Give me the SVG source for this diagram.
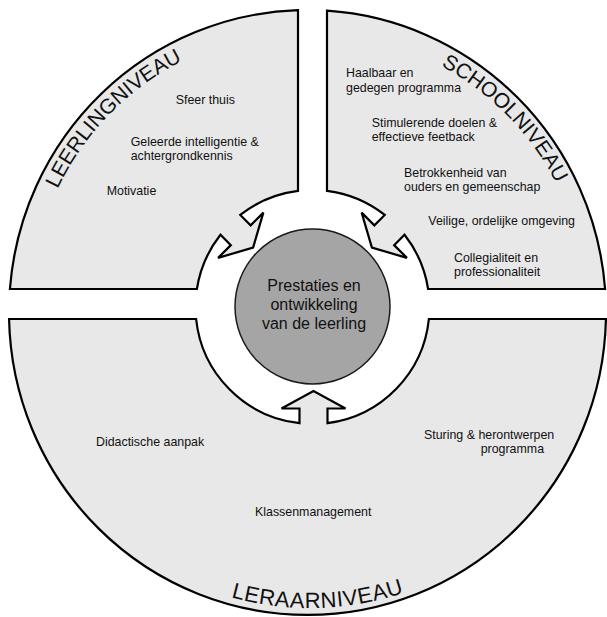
<svg xmlns="http://www.w3.org/2000/svg" width="607" height="617" viewBox="0 0 607 617">
<style>
.sector{fill:#e8e8e8;stroke:#000;stroke-width:2.2;stroke-linejoin:miter}
.core{fill:#a5a5a5;stroke:#1a1a1a;stroke-width:1.5}
.lbl{font-family:"Liberation Sans",Arial,sans-serif;font-size:12.4px;fill:#111}
.ctr{font-family:"Liberation Sans",Arial,sans-serif;font-size:16px;fill:#111;text-anchor:middle}
.title{font-family:"Liberation Sans",Arial,sans-serif;font-size:21px;fill:#111;text-anchor:middle}
</style>
<defs>
<path id="pLeerling" d="M 30.77 289.25 A 280 280 0 0 1 281.95 31.41"/>
<path id="pSchool" d="M 336.55 34.27 A 277 277 0 0 1 586.15 288.27"/>
<path id="pLeraar" d="M 125.87 543.76 A 296 296 0 0 0 506.42 533.44"/>
</defs>
<rect width="607" height="617" fill="#fff"/>
<g id="leerlingniveau">
<path class="sector" d="M 298 190.9 L 298 10.15 A 298.5 302.5 0 0 0 9.9 289 L 196.9 289 A 117 117 0 0 1 220.46 234.76 L 230.83 245.13 L 218.10 257.86 L 253.10 247.60 L 263.36 212.60 L 250.63 225.33 L 240.26 214.96 A 117 117 0 0 1 298 190.9 Z"/>
<text class="title"><textPath href="#pLeerling" startOffset="50%">LEERLINGNIVEAU</textPath></text>
<text class="lbl" x="175.7" y="104">Sfeer thuis</text>
<text class="lbl" x="130.7" y="145.7">Geleerde intelligentie &amp;</text>
<text class="lbl" x="130.7" y="160">achtergrondkennis</text>
<text class="lbl" x="106.7" y="195">Motivatie</text>
</g>
<g id="schoolniveau">
<path class="sector" d="M 327 190.9 L 327 10.65 A 298.5 302.5 0 0 1 605.1 289 L 428.1 289 A 117 117 0 0 0 404.54 234.76 L 394.17 245.13 L 406.90 257.86 L 371.90 247.60 L 361.64 212.60 L 374.37 225.33 L 384.74 214.96 A 117 117 0 0 0 327 190.9 Z"/>
<text class="title"><textPath href="#pSchool" startOffset="50%">SCHOOLNIVEAU</textPath></text>
<text class="lbl" x="346" y="77.3">Haalbaar en</text>
<text class="lbl" x="346" y="91.7">gedegen programma</text>
<text class="lbl" x="371.7" y="126.7">Stimulerende doelen &amp;</text>
<text class="lbl" x="371.7" y="140.7">effectieve feetback</text>
<text class="lbl" x="404" y="176.7">Betrokkenheid van</text>
<text class="lbl" x="404" y="191.2">ouders en gemeenschap</text>
<text class="lbl" x="428.3" y="225">Veilige, ordelijke omgeving</text>
<text class="lbl" x="454" y="261.7">Collegialiteit en</text>
<text class="lbl" x="454" y="276">professionaliteit</text>
</g>
<g id="leraarniveau">
<path class="sector" d="M 196.12 319 L 9.07 319 A 298.5 302.5 0 0 0 605.93 319 L 428.88 319 A 117 117 0 0 1 327.5 423.16 L 327.5 408.5 L 345.5 408.5 L 313.5 391 L 281.5 408.5 L 299.5 408.5 L 299.5 423.16 A 117 117 0 0 1 196.12 319 Z"/>
<text class="title" style="font-size:22px;letter-spacing:0.5px"><textPath href="#pLeraar" startOffset="50%">LERAARNIVEAU</textPath></text>
<text class="lbl" x="96" y="446">Didactische aanpak</text>
<text class="lbl" x="255" y="516">Klassenmanagement</text>
<text class="lbl" x="424" y="439">Sturing &amp; herontwerpen</text>
<text class="lbl" x="480.7" y="453.3">programma</text>
</g>
<g id="leerling">
<circle class="core" cx="312.5" cy="306.5" r="77.5"/>
<text class="ctr" x="314" y="291">Prestaties en</text>
<text class="ctr" x="314" y="310">ontwikkeling</text>
<text class="ctr" x="314" y="329">van de leerling</text>
</g>
<g id="connectors"/>
</svg>
